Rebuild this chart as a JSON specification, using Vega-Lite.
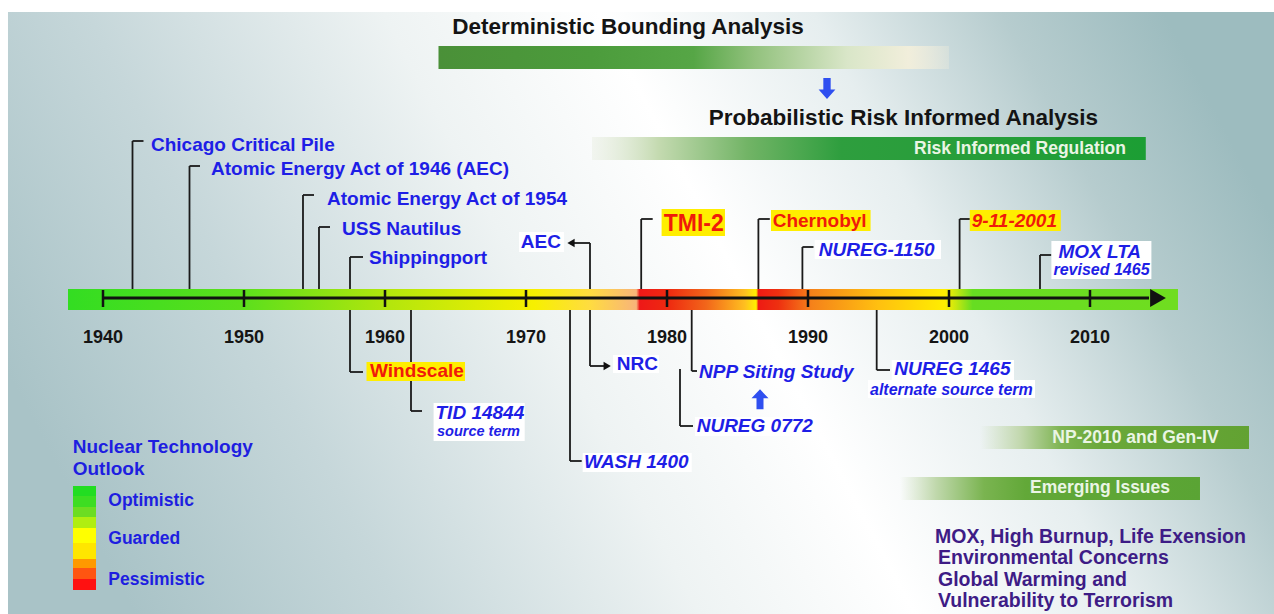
{
  "$schema": "https://vega.github.io/schema/vega-lite/v6.json",
  "width": 1274,
  "height": 614,
  "padding": 0,
  "autosize": {"type": "fit", "contains": "padding"},
  "background": "white",
  "config": {"view": {"stroke": null}, "text": {"font": "Liberation Sans"}},
  "datasets": {
    "panel": [{"x": 1933.262, "x2": 2023.05, "y": 12, "y2": 614}],
    "detBar": [{"x": 1963.794, "x2": 2000.0, "y": 46, "y2": 69}],
    "riskBar": [{"x": 1974.681, "x2": 2013.957, "y": 137, "y2": 160}],
    "npBar": [{"x": 2002.199, "x2": 2021.277, "y": 426, "y2": 449}],
    "emBar": [{"x": 1996.525, "x2": 2017.801, "y": 477, "y2": 500}],
    "timeline": [{"x": 1937.518, "x2": 2016.241, "y": 289, "y2": 310}],
    "axisLine": [{"x": 1940, "x2": 2014.184, "y": 298, "y2": 298}],
    "axisArrow": [{"x": 2014.823, "y": 298}],
    "decadeTicks": [
      {"x": 1940, "y": 290, "y2": 307}, {"x": 1950, "y": 290, "y2": 307},
      {"x": 1960, "y": 290, "y2": 307}, {"x": 1970, "y": 290, "y2": 307},
      {"x": 1980, "y": 290, "y2": 307}, {"x": 1990, "y": 290, "y2": 307},
      {"x": 2000, "y": 290, "y2": 307}, {"x": 2010, "y": 290, "y2": 307}
    ],
    "yearLabels": [
      {"x": 1940, "y": 338, "t": "1940"}, {"x": 1950, "y": 338, "t": "1950"},
      {"x": 1960, "y": 338, "t": "1960"}, {"x": 1970, "y": 338, "t": "1970"},
      {"x": 1980, "y": 338, "t": "1980"}, {"x": 1990, "y": 338, "t": "1990"},
      {"x": 2000, "y": 338, "t": "2000"}, {"x": 2010, "y": 338, "t": "2010"}
    ],
    "leaders": [
      {"x": 1942.092, "y": 289, "x2": 1942.092, "y2": 141}, {"x": 1942.092, "y": 141, "x2": 1942.872, "y2": 141},
      {"x": 1946.135, "y": 289, "x2": 1946.135, "y2": 166}, {"x": 1946.135, "y": 166, "x2": 1946.879, "y2": 166},
      {"x": 1954.184, "y": 289, "x2": 1954.184, "y2": 195}, {"x": 1954.184, "y": 195, "x2": 1954.965, "y2": 195},
      {"x": 1955.319, "y": 289, "x2": 1955.319, "y2": 227}, {"x": 1955.319, "y": 227, "x2": 1956.099, "y2": 227},
      {"x": 1957.518, "y": 289, "x2": 1957.518, "y2": 257}, {"x": 1957.518, "y": 257, "x2": 1958.44, "y2": 257},
      {"x": 1974.539, "y": 289, "x2": 1974.539, "y2": 243}, {"x": 1974.539, "y": 243, "x2": 1973.3, "y2": 243},
      {"x": 1978.17, "y": 289, "x2": 1978.17, "y2": 219}, {"x": 1978.17, "y": 219, "x2": 1978.986, "y2": 219},
      {"x": 1986.482, "y": 289, "x2": 1986.482, "y2": 219}, {"x": 1986.482, "y": 219, "x2": 1987.291, "y2": 219},
      {"x": 1989.603, "y": 289, "x2": 1989.603, "y2": 247}, {"x": 1989.603, "y": 247, "x2": 1990.39, "y2": 247},
      {"x": 2000.752, "y": 289, "x2": 2000.752, "y2": 219}, {"x": 2000.752, "y": 219, "x2": 2001.475, "y2": 219},
      {"x": 2006.454, "y": 289, "x2": 2006.454, "y2": 255}, {"x": 2006.454, "y": 255, "x2": 2007.262, "y2": 255},
      {"x": 1957.518, "y": 310, "x2": 1957.518, "y2": 372}, {"x": 1957.518, "y": 372, "x2": 1958.44, "y2": 372},
      {"x": 1961.844, "y": 310, "x2": 1961.844, "y2": 411}, {"x": 1961.844, "y": 411, "x2": 1962.624, "y2": 411},
      {"x": 1973.121, "y": 310, "x2": 1973.121, "y2": 461}, {"x": 1973.121, "y": 461, "x2": 1973.95, "y2": 461},
      {"x": 1974.539, "y": 310, "x2": 1974.539, "y2": 366}, {"x": 1974.539, "y": 366, "x2": 1975.532, "y2": 366},
      {"x": 1981.752, "y": 310, "x2": 1981.752, "y2": 371}, {"x": 1981.752, "y": 371, "x2": 1982.128, "y2": 371},
      {"x": 1980.922, "y": 369, "x2": 1980.922, "y2": 426}, {"x": 1980.922, "y": 426, "x2": 1981.844, "y2": 426},
      {"x": 1994.872, "y": 310, "x2": 1994.872, "y2": 370}, {"x": 1994.872, "y": 370, "x2": 1995.816, "y2": 370}
    ],
    "arrowLeft": [{"x": 1973.191, "y": 243}],
    "arrowRight": [{"x": 1975.759, "y": 366}],
    "whiteBoxes": [
      {"x": 1969.504, "x2": 1972.695, "y": 232, "y2": 252},
      {"x": 1976.17, "x2": 1979.433, "y": 355, "y2": 373},
      {"x": 1963.447, "x2": 1969.908, "y": 403, "y2": 441},
      {"x": 1974.021, "x2": 1981.752, "y": 453, "y2": 472},
      {"x": 1981.986, "x2": 1990.567, "y": 417, "y2": 436},
      {"x": 1995.936, "x2": 2004.61, "y": 360, "y2": 380},
      {"x": 1994.255, "x2": 2006.099, "y": 380, "y2": 398},
      {"x": 1990.475, "x2": 1999.433, "y": 240, "y2": 259},
      {"x": 2007.262, "x2": 2014.355, "y": 241, "y2": 279}
    ],
    "yellowBoxes": [
      {"x": 1979.617, "x2": 1984.113, "y": 209, "y2": 236},
      {"x": 1987.376, "x2": 1994.44, "y": 210, "y2": 231},
      {"x": 2001.475, "x2": 2007.929, "y": 210, "y2": 231},
      {"x": 1958.688, "x2": 1965.674, "y": 362, "y2": 381}
    ],
    "blueText": [
      {"x": 1943.404, "y": 145, "t": "Chicago Critical Pile"},
      {"x": 1947.66, "y": 169, "t": "Atomic Energy Act of 1946 (AEC)"},
      {"x": 1955.887, "y": 199, "t": "Atomic Energy Act of 1954"},
      {"x": 1956.95, "y": 229, "t": "USS Nautilus"},
      {"x": 1958.865, "y": 258, "t": "Shippingport"},
      {"x": 1976.433, "y": 364, "t": "NRC"}
    ],
    "aecText": [{"x": 1972.482, "y": 242, "t": "AEC"}],
    "italicBlue": [
      {"x": 1990.766, "y": 249.5, "t": "NUREG-1150"},
      {"x": 2007.759, "y": 252, "t": "MOX LTA"},
      {"x": 1963.582, "y": 413, "t": "TID 14844"},
      {"x": 1974.113, "y": 462, "t": "WASH 1400"},
      {"x": 1982.27, "y": 372, "t": "NPP Siting Study"},
      {"x": 1982.106, "y": 426, "t": "NUREG 0772"},
      {"x": 1996.121, "y": 369, "t": "NUREG 1465"}
    ],
    "italicSmall": [
      {"x": 2007.411, "y": 270, "t": "revised 1465"},
      {"x": 1994.397, "y": 390, "t": "alternate source term"}
    ],
    "italicSmaller": [{"x": 1963.688, "y": 432, "t": "source term"}],
    "redText": [
      {"x": 1987.496, "y": 221, "t": "Chernobyl"},
      {"x": 1958.936, "y": 371, "t": "Windscale"}
    ],
    "redItalic": [{"x": 2001.617, "y": 221, "t": "9-11-2001"}],
    "tmiText": [{"x": 1979.766, "y": 223.5, "t": "TMI-2"}],
    "titles": [
      {"x": 1977.234, "y": 27, "t": "Deterministic Bounding Analysis"},
      {"x": 1996.773, "y": 118, "t": "Probabilistic Risk Informed Analysis"}
    ],
    "bannerText": [
      {"x": 2005.035, "y": 149, "t": "Risk Informed Regulation"},
      {"x": 2013.227, "y": 438, "t": "NP-2010 and Gen-IV"},
      {"x": 2010.709, "y": 488, "t": "Emerging Issues"}
    ],
    "purpleText": [
      {"x": 1999.007, "y": 537, "t": "MOX, High Burnup, Life Exension"},
      {"x": 1999.22, "y": 558, "t": "Environmental Concerns"},
      {"x": 1999.22, "y": 580, "t": "Global Warming and"},
      {"x": 1999.22, "y": 601, "t": "Vulnerability to Terrorism"}
    ],
    "legendTitle": [
      {"x": 1937.851, "y": 447, "t": "Nuclear Technology"},
      {"x": 1937.851, "y": 469, "t": "Outlook"}
    ],
    "legendLabels": [
      {"x": 1940.376, "y": 501, "t": "Optimistic"},
      {"x": 1940.376, "y": 539, "t": "Guarded"},
      {"x": 1940.376, "y": 580, "t": "Pessimistic"}
    ],
    "legendStrip": [{"x": 1937.872, "x2": 1939.504, "y": 486, "y2": 590}],
    "downArrow": [{"x": 1991.348, "y": 88.5}],
    "upArrow": [{"x": 1986.596, "y": 399.3}]
  },
  "encoding": {
    "x": {"field": "x", "type": "quantitative", "scale": {"domain": [1932.695, 2023.05], "nice": false, "zero": false}, "axis": null},
    "y": {"field": "y", "type": "quantitative", "scale": {"domain": [0, 614], "reverse": true, "nice": false, "zero": false}, "axis": null}
  },
  "layer": [
    {
      "data": {"name": "panel"},
      "mark": {"type": "rect", "fill": {"gradient": "linear", "x1": 0, "y1": 0.6, "x2": 1, "y2": 0.35, "stops": [
        {"offset": 0, "color": "#a9c3c7"}, {"offset": 0.2, "color": "#c6d7da"}, {"offset": 0.42, "color": "#eef3f3"},
        {"offset": 0.58, "color": "#ffffff"}, {"offset": 0.74, "color": "#e6eeef"}, {"offset": 0.88, "color": "#b6ccce"},
        {"offset": 1, "color": "#9dbcbf"}]}},
      "encoding": {"x2": {"field": "x2"}, "y2": {"field": "y2"}}
    },
    {
      "data": {"name": "detBar"},
      "mark": {"type": "rect", "fill": {"gradient": "linear", "stops": [
        {"offset": 0, "color": "#4a9038"}, {"offset": 0.3, "color": "#4c9c3c"}, {"offset": 0.5, "color": "#56a646"},
        {"offset": 0.62, "color": "#93c27e"}, {"offset": 0.8, "color": "#d9e6c8"}, {"offset": 0.92, "color": "#f1eedb"},
        {"offset": 1, "color": "rgba(242,238,220,0.3)"}]}},
      "encoding": {"x2": {"field": "x2"}, "y2": {"field": "y2"}}
    },
    {
      "data": {"name": "riskBar"},
      "mark": {"type": "rect", "fill": {"gradient": "linear", "stops": [
        {"offset": 0, "color": "rgba(230,236,222,0.4)"}, {"offset": 0.12, "color": "#c4dab0"}, {"offset": 0.28, "color": "#72b466"},
        {"offset": 0.45, "color": "#2e9e3e"}, {"offset": 1, "color": "#1c9e34"}]}},
      "encoding": {"x2": {"field": "x2"}, "y2": {"field": "y2"}}
    },
    {
      "data": {"name": "npBar"},
      "mark": {"type": "rect", "fill": {"gradient": "linear", "stops": [
        {"offset": 0, "color": "rgba(200,220,180,0)"}, {"offset": 0.15, "color": "#c2d8ae"}, {"offset": 0.3, "color": "#7eb452"},
        {"offset": 0.45, "color": "#6aa83a"}, {"offset": 1, "color": "#62a232"}]}},
      "encoding": {"x2": {"field": "x2"}, "y2": {"field": "y2"}}
    },
    {
      "data": {"name": "emBar"},
      "mark": {"type": "rect", "fill": {"gradient": "linear", "stops": [
        {"offset": 0, "color": "rgba(200,220,180,0)"}, {"offset": 0.12, "color": "#c0d8ac"}, {"offset": 0.28, "color": "#7ab450"},
        {"offset": 0.42, "color": "#62a838"}, {"offset": 1, "color": "#5aa434"}]}},
      "encoding": {"x2": {"field": "x2"}, "y2": {"field": "y2"}}
    },
    {
      "data": {"name": "timeline"},
      "mark": {"type": "rect", "fill": {"gradient": "linear", "stops": [
        {"offset": 0, "color": "#33dd22"}, {"offset": 0.16, "color": "#5ddf1c"}, {"offset": 0.29, "color": "#b4e60c"},
        {"offset": 0.42, "color": "#f7f000"}, {"offset": 0.47, "color": "#ffdc40"}, {"offset": 0.512, "color": "#f8b47a"},
        {"offset": 0.515, "color": "#ee1818"}, {"offset": 0.541, "color": "#ee2a10"}, {"offset": 0.575, "color": "#f2661a"},
        {"offset": 0.61, "color": "#ffc020"}, {"offset": 0.62, "color": "#fff000"}, {"offset": 0.622, "color": "#ee1a14"},
        {"offset": 0.64, "color": "#ee3010"}, {"offset": 0.67, "color": "#f5821a"}, {"offset": 0.73, "color": "#ffc010"},
        {"offset": 0.79, "color": "#ffee00"}, {"offset": 0.8, "color": "#c8e810"}, {"offset": 0.815, "color": "#66dd22"},
        {"offset": 1, "color": "#70dd20"}]}},
      "encoding": {"x2": {"field": "x2"}, "y2": {"field": "y2"}}
    },
    {
      "data": {"name": "axisLine"},
      "mark": {"type": "rule", "color": "#111111", "strokeWidth": 3.2},
      "encoding": {"x2": {"field": "x2"}, "y2": {"field": "y2"}}
    },
    {
      "data": {"name": "decadeTicks"},
      "mark": {"type": "rule", "color": "#111111", "strokeWidth": 2.5},
      "encoding": {"y2": {"field": "y2"}}
    },
    {
      "data": {"name": "axisArrow"},
      "mark": {"type": "point", "shape": "triangle-right", "size": 330, "filled": true, "color": "#111111", "opacity": 1},
      "encoding": {}
    },
    {
      "data": {"name": "leaders"},
      "mark": {"type": "rule", "color": "#1a1a1a", "strokeWidth": 1.8},
      "encoding": {"x2": {"field": "x2"}, "y2": {"field": "y2"}}
    },
    {
      "data": {"name": "arrowLeft"},
      "mark": {"type": "point", "shape": "triangle-left", "size": 70, "filled": true, "color": "#111111", "opacity": 1},
      "encoding": {}
    },
    {
      "data": {"name": "arrowRight"},
      "mark": {"type": "point", "shape": "triangle-right", "size": 70, "filled": true, "color": "#111111", "opacity": 1},
      "encoding": {}
    },
    {
      "data": {"name": "whiteBoxes"},
      "mark": {"type": "rect", "fill": "#ffffff"},
      "encoding": {"x2": {"field": "x2"}, "y2": {"field": "y2"}}
    },
    {
      "data": {"name": "yellowBoxes"},
      "mark": {"type": "rect", "fill": "#ffee00"},
      "encoding": {"x2": {"field": "x2"}, "y2": {"field": "y2"}}
    },
    {
      "data": {"name": "legendStrip"},
      "mark": {"type": "rect", "fill": {"gradient": "linear", "x1": 0, "y1": 0, "x2": 0, "y2": 1, "stops": [
        {"offset": 0, "color": "#22dd22"}, {"offset": 0.1, "color": "#22dd22"},
        {"offset": 0.1, "color": "#3ddd22"}, {"offset": 0.2, "color": "#3ddd22"},
        {"offset": 0.2, "color": "#6cdd22"}, {"offset": 0.3, "color": "#6cdd22"},
        {"offset": 0.3, "color": "#b0ee11"}, {"offset": 0.4, "color": "#b0ee11"},
        {"offset": 0.4, "color": "#ffff00"}, {"offset": 0.55, "color": "#ffff00"},
        {"offset": 0.55, "color": "#ffe600"}, {"offset": 0.7, "color": "#ffe600"},
        {"offset": 0.7, "color": "#ff9900"}, {"offset": 0.79, "color": "#ff9900"},
        {"offset": 0.79, "color": "#ff5511"}, {"offset": 0.89, "color": "#ff5511"},
        {"offset": 0.89, "color": "#ff1111"}, {"offset": 1, "color": "#ff1111"}]}},
      "encoding": {"x2": {"field": "x2"}, "y2": {"field": "y2"}}
    },
    {
      "data": {"name": "downArrow"},
      "mark": {"type": "point", "shape": "M-0.35,-1L0.35,-1L0.35,0.1L0.8,0.1L0,1L-0.8,0.1L-0.35,0.1Z", "size": 441, "filled": true, "color": "#2f4ff0", "opacity": 1},
      "encoding": {}
    },
    {
      "data": {"name": "upArrow"},
      "mark": {"type": "point", "shape": "M-0.35,1L0.35,1L0.35,-0.1L0.85,-0.1L0,-1L-0.85,-0.1L-0.35,-0.1Z", "size": 400, "filled": true, "color": "#2f4ff0", "opacity": 1},
      "encoding": {}
    },
    {
      "data": {"name": "yearLabels"},
      "mark": {"type": "text", "align": "center", "baseline": "middle", "fontWeight": "bold", "fontSize": 18, "color": "#151515"},
      "encoding": {"text": {"field": "t"}}
    },
    {
      "data": {"name": "blueText"},
      "mark": {"type": "text", "align": "left", "baseline": "middle", "fontWeight": "bold", "fontSize": 19, "color": "#1e1ee6"},
      "encoding": {"text": {"field": "t"}}
    },
    {
      "data": {"name": "aecText"},
      "mark": {"type": "text", "align": "right", "baseline": "middle", "fontWeight": "bold", "fontSize": 19, "color": "#1e1ee6"},
      "encoding": {"text": {"field": "t"}}
    },
    {
      "data": {"name": "italicBlue"},
      "mark": {"type": "text", "align": "left", "baseline": "middle", "fontWeight": "bold", "fontStyle": "italic", "fontSize": 19, "color": "#1e1ee6"},
      "encoding": {"text": {"field": "t"}}
    },
    {
      "data": {"name": "italicSmall"},
      "mark": {"type": "text", "align": "left", "baseline": "middle", "fontWeight": "bold", "fontStyle": "italic", "fontSize": 16, "color": "#1e1ee6"},
      "encoding": {"text": {"field": "t"}}
    },
    {
      "data": {"name": "italicSmaller"},
      "mark": {"type": "text", "align": "left", "baseline": "middle", "fontWeight": "bold", "fontStyle": "italic", "fontSize": 14.5, "color": "#1e1ee6"},
      "encoding": {"text": {"field": "t"}}
    },
    {
      "data": {"name": "redText"},
      "mark": {"type": "text", "align": "left", "baseline": "middle", "fontWeight": "bold", "fontSize": 19, "color": "#f01a0a"},
      "encoding": {"text": {"field": "t"}}
    },
    {
      "data": {"name": "redItalic"},
      "mark": {"type": "text", "align": "left", "baseline": "middle", "fontWeight": "bold", "fontStyle": "italic", "fontSize": 19, "color": "#f01a0a"},
      "encoding": {"text": {"field": "t"}}
    },
    {
      "data": {"name": "tmiText"},
      "mark": {"type": "text", "align": "left", "baseline": "middle", "fontWeight": "bold", "fontSize": 23, "color": "#f01a0a"},
      "encoding": {"text": {"field": "t"}}
    },
    {
      "data": {"name": "titles"},
      "mark": {"type": "text", "align": "center", "baseline": "middle", "fontWeight": "bold", "fontSize": 22.5, "color": "#141414"},
      "encoding": {"text": {"field": "t"}}
    },
    {
      "data": {"name": "bannerText"},
      "mark": {"type": "text", "align": "center", "baseline": "middle", "fontWeight": "bold", "fontSize": 17.5, "color": "#eaf5e4"},
      "encoding": {"text": {"field": "t"}}
    },
    {
      "data": {"name": "purpleText"},
      "mark": {"type": "text", "align": "left", "baseline": "middle", "fontWeight": "bold", "fontSize": 19.5, "color": "#3e1c86"},
      "encoding": {"text": {"field": "t"}}
    },
    {
      "data": {"name": "legendTitle"},
      "mark": {"type": "text", "align": "left", "baseline": "middle", "fontWeight": "bold", "fontSize": 19, "color": "#1e1ee0"},
      "encoding": {"text": {"field": "t"}}
    },
    {
      "data": {"name": "legendLabels"},
      "mark": {"type": "text", "align": "left", "baseline": "middle", "fontWeight": "bold", "fontSize": 17.5, "color": "#1e1ee0"},
      "encoding": {"text": {"field": "t"}}
    }
  ]
}
